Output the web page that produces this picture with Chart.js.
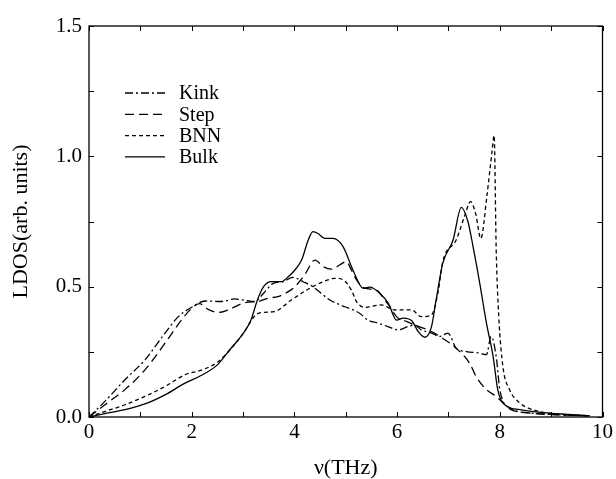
<!DOCTYPE html>
<html>
<head>
<meta charset="utf-8">
<script src="https://cdn.jsdelivr.net/npm/chart.js@4/dist/chart.umd.min.js"></script>
<style>
  html, body { margin: 0; padding: 0; background: #fff; }
  #wrap { width: 616px; height: 479px; }
</style>
</head>
<body>
<div id="wrap"><canvas id="ldosChart" width="616" height="479"></canvas></div>
<script>
// values (frequency in THz, LDOS in arb. units)
const kinkX = [0, 0.31, 0.7, 1.09, 1.48, 1.74, 2.0, 2.26, 2.58, 2.84, 3.0, 3.23, 3.4, 3.59, 3.78, 3.97, 4.17, 4.36, 4.69, 4.98, 5.14, 5.27, 5.43, 5.63, 5.82, 6.02, 6.21, 6.34, 6.47, 6.67, 6.83, 6.99, 7.15, 7.35, 7.61, 7.74, 7.83, 7.93, 8.0, 8.2, 8.6, 9.2, 9.75];
const kinkY = [0, 0.06, 0.143, 0.219, 0.322, 0.385, 0.421, 0.445, 0.443, 0.453, 0.449, 0.443, 0.475, 0.513, 0.519, 0.536, 0.519, 0.5, 0.449, 0.423, 0.411, 0.398, 0.372, 0.36, 0.347, 0.334, 0.347, 0.353, 0.334, 0.322, 0.309, 0.322, 0.264, 0.251, 0.245, 0.239, 0.309, 0.232, 0.105, 0.035, 0.015, 0.008, 0.004];

const stepX = [0, 0.31, 0.7, 1.09, 1.48, 1.8, 2.0, 2.15, 2.32, 2.52, 2.71, 3.04, 3.29, 3.49, 3.68, 3.88, 4.01, 4.2, 4.4, 4.56, 4.72, 4.88, 5.01, 5.11, 5.21, 5.37, 5.6, 5.76, 5.86, 5.99, 6.2, 6.45, 6.65, 6.83, 7.15, 7.41, 7.54, 7.74, 7.93, 8.0, 8.2, 8.6, 9.2, 9.75];
const stepY = [0, 0.047, 0.105, 0.181, 0.283, 0.372, 0.417, 0.435, 0.413, 0.401, 0.411, 0.439, 0.443, 0.456, 0.462, 0.481, 0.5, 0.545, 0.602, 0.577, 0.567, 0.583, 0.596, 0.564, 0.526, 0.494, 0.487, 0.449, 0.423, 0.385, 0.365, 0.345, 0.33, 0.309, 0.264, 0.207, 0.155, 0.105, 0.079, 0.066, 0.03, 0.015, 0.008, 0.004];

const bnnX = [0, 0.31, 0.7, 1.09, 1.48, 1.87, 2.19, 2.5, 2.8, 3.0, 3.3, 3.6, 3.94, 4.24, 4.56, 4.79, 4.95, 5.11, 5.21, 5.37, 5.69, 5.95, 6.28, 6.47, 6.67, 6.8, 6.89, 7.15, 7.31, 7.43, 7.53, 7.63, 7.75, 7.85, 7.89, 7.93, 7.98, 8.06, 8.19, 8.39, 8.77, 9.29, 9.75];
const bnnY = [0, 0.021, 0.047, 0.079, 0.117, 0.162, 0.18, 0.21, 0.27, 0.32, 0.398, 0.404, 0.449, 0.487, 0.519, 0.532, 0.526, 0.487, 0.443, 0.42, 0.43, 0.411, 0.411, 0.385, 0.392, 0.481, 0.596, 0.679, 0.768, 0.826, 0.78, 0.685, 0.85, 1.02, 1.08, 0.64, 0.385, 0.194, 0.105, 0.054, 0.021, 0.009, 0.005];

const bulkX = [0, 0.31, 0.7, 1.09, 1.48, 1.87, 2.19, 2.5, 2.75, 3.0, 3.15, 3.28, 3.4, 3.55, 3.75, 3.88, 4.01, 4.14, 4.27, 4.36, 4.46, 4.59, 4.75, 4.95, 5.14, 5.34, 5.47, 5.66, 5.83, 5.99, 6.12, 6.28, 6.41, 6.54, 6.67, 6.76, 6.89, 7.09, 7.25, 7.38, 7.48, 7.61, 7.74, 7.87, 7.96, 8.06, 8.39, 8.97, 9.75];
const bulkY = [0, 0.013, 0.028, 0.05, 0.085, 0.13, 0.16, 0.2, 0.26, 0.32, 0.37, 0.449, 0.5, 0.519, 0.519, 0.538, 0.564, 0.602, 0.679, 0.711, 0.704, 0.685, 0.685, 0.653, 0.564, 0.494, 0.498, 0.475, 0.436, 0.372, 0.379, 0.37, 0.328, 0.306, 0.347, 0.449, 0.59, 0.679, 0.804, 0.749, 0.653, 0.513, 0.36, 0.232, 0.105, 0.054, 0.028, 0.015, 0.005];

const seriesNames = ['Kink', 'Step', 'BNN', 'Bulk'];
const xTicks = [0, 2, 4, 6, 8, 10];
const xMinorTicks = [1, 3, 5, 7, 9];
const yTicks = [0, 0.5, 1.0, 1.5];
const yMinorTicks = [0.25, 0.75, 1.25];

const serif = '"Liberation Serif", "Times New Roman", serif';
const toPoints = (xs, ys) => xs.map((x, i) => ({ x: x, y: ys[i] }));

function makeSet(label, xs, ys, dash) {
    return {
        label: label,
        data: toPoints(xs, ys),
        borderColor: '#000',
        borderWidth: 1.3,
        borderDash: dash,
        pointRadius: 0,
        fill: false,
        cubicInterpolationMode: 'monotone'
    };
}

// inward ticks on all four sides plus the closed frame
const framePlugin = {
    id: 'frame',
    afterDraw(chart) {
        const { ctx, chartArea: a, scales } = chart;
        ctx.save();
        ctx.strokeStyle = '#000';
        ctx.lineWidth = 1.3;
        ctx.strokeRect(a.left, a.top, a.right - a.left, a.bottom - a.top);
        ctx.lineWidth = 1;
        const len = 5;
        ctx.beginPath();
        xTicks.concat(xMinorTicks).forEach(v => {
            const px = Math.round(scales.x.getPixelForValue(v)) + 0.5;
            ctx.moveTo(px, a.bottom); ctx.lineTo(px, a.bottom - len);
            ctx.moveTo(px, a.top); ctx.lineTo(px, a.top + len);
        });
        yTicks.concat(yMinorTicks).forEach(v => {
            const py = Math.round(scales.y.getPixelForValue(v)) + 0.5;
            ctx.moveTo(a.left, py); ctx.lineTo(a.left + len, py);
            ctx.moveTo(a.right, py); ctx.lineTo(a.right - len, py);
        });
        ctx.stroke();
        ctx.restore();
    }
};

// legend drawn inside the plot, upper left
const legendPlugin = {
    id: 'innerLegend',
    afterDraw(chart) {
        const { ctx, chartArea: a } = chart;
        ctx.save();
        ctx.font = '20px ' + serif;
        ctx.fillStyle = '#000';
        ctx.textBaseline = 'middle';
        chart.data.datasets.forEach((ds, i) => {
            const y = a.top + 67 + i * 21.3;
            ctx.strokeStyle = '#000';
            ctx.lineWidth = 1.3;
            ctx.setLineDash(ds.borderDash || []);
            ctx.beginPath();
            ctx.moveTo(a.left + 36, y);
            ctx.lineTo(a.left + 76, y);
            ctx.stroke();
            ctx.setLineDash([]);
            ctx.fillText(ds.label, a.left + 90, y + 1);
        });
        ctx.restore();
    }
};

const ctx = document.getElementById('ldosChart').getContext('2d');
new Chart(ctx, {
    type: 'line',
    data: {
        datasets: [
            makeSet(seriesNames[0], kinkX, kinkY, [8, 3, 2, 3]),
            makeSet(seriesNames[1], stepX, stepY, [9, 5]),
            makeSet(seriesNames[2], bnnX, bnnY, [4, 3]),
            makeSet(seriesNames[3], bulkX, bulkY, [])
        ]
    },
    options: {
        responsive: false,
        animation: false,
        layout: { padding: { top: 26, right: 13, left: 0, bottom: 0 } },
        plugins: {
            legend: { display: false },
            tooltip: { enabled: false }
        },
        scales: {
            x: {
                type: 'linear',
                min: 0,
                max: 10,
                afterBuildTicks: s => { s.ticks = xTicks.map(v => ({ value: v })); },
                afterFit: s => { s.height = 62; },
                grid: { display: false, drawTicks: false },
                border: { display: false },
                ticks: {
                    color: '#000',
                    font: { family: serif, size: 21 },
                    padding: 3,
                    maxRotation: 0,
                    callback: v => String(v)
                },
                title: {
                    display: true,
                    text: 'ν(THz)',
                    color: '#000',
                    font: { family: serif, size: 22, lineHeight: 1 },
                    padding: 0
                }
            },
            y: {
                type: 'linear',
                min: 0,
                max: 1.5,
                afterBuildTicks: s => { s.ticks = yTicks.map(v => ({ value: v })); },
                afterFit: s => { s.width = 89; },
                grid: { display: false, drawTicks: false },
                border: { display: false },
                ticks: {
                    color: '#000',
                    font: { family: serif, size: 21 },
                    padding: 7,
                    callback: v => Number(v).toFixed(1)
                },
                title: {
                    display: true,
                    text: 'LDOS(arb. units)',
                    color: '#000',
                    font: { family: serif, size: 22, lineHeight: 1 },
                    padding: 10
                }
            }
        }
    },
    plugins: [framePlugin, legendPlugin]
});
</script>
</body>
</html>
